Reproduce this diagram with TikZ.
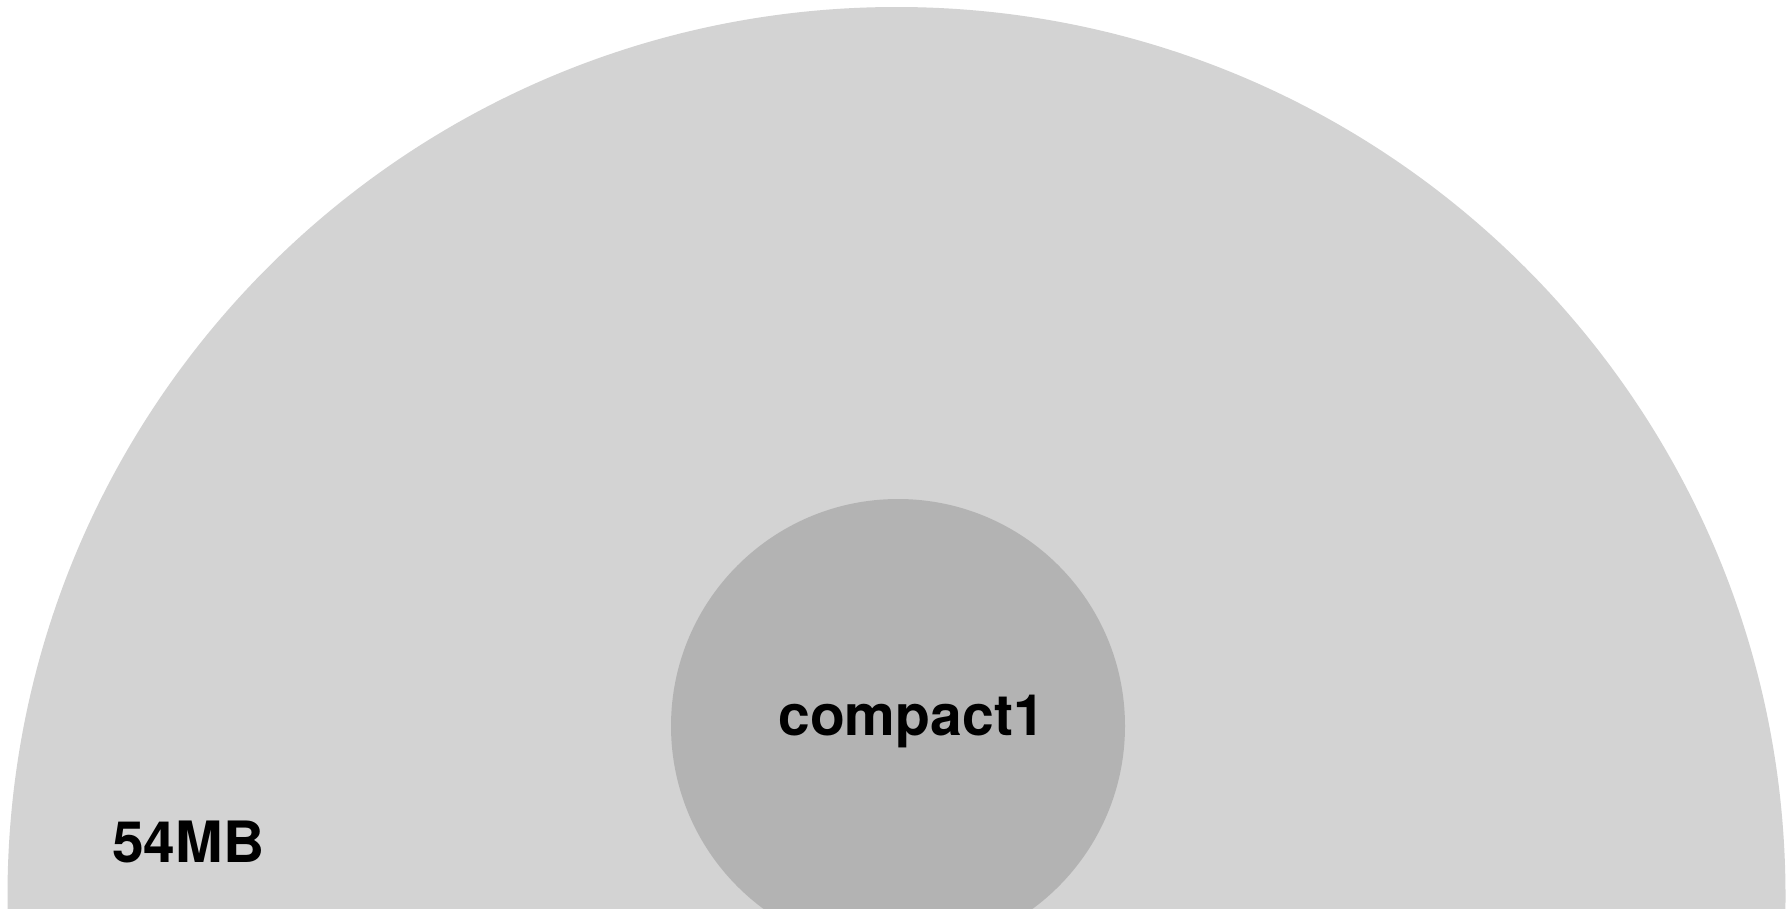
\documentclass[tikz,border=0pt]{standalone}
\usepackage{fontspec}
\setmainfont{TeX Gyre Heros}
\usepackage{tikz}
\usetikzlibrary{positioning}
\definecolor{szouter}{HTML}{D3D3D3}
\definecolor{szinner}{HTML}{B3B3B3}
\definecolor{sztexte}{HTML}{000000}

\begin{document}
\begin{tikzpicture}[x=1pt,y=-1pt,font=\fontsize{57}{68}\selectfont\bfseries]
  \useasboundingbox (0,0) rectangle (1787,908);
  \clip (0,0) rectangle (1787,908);
  % anneau total
  \fill[szouter] (896.5,896) circle (889);
  % secteur compact1
  \fill[szinner] (898,726) circle (227);
  % etiquettes
  \node[sztexte,inner sep=0,anchor=base] (compact) at (911.5,735) {compact1};
  \node[sztexte,inner sep=0,anchor=base west] (taille) at (112,862) {54MB};
\end{tikzpicture}
\end{document}
